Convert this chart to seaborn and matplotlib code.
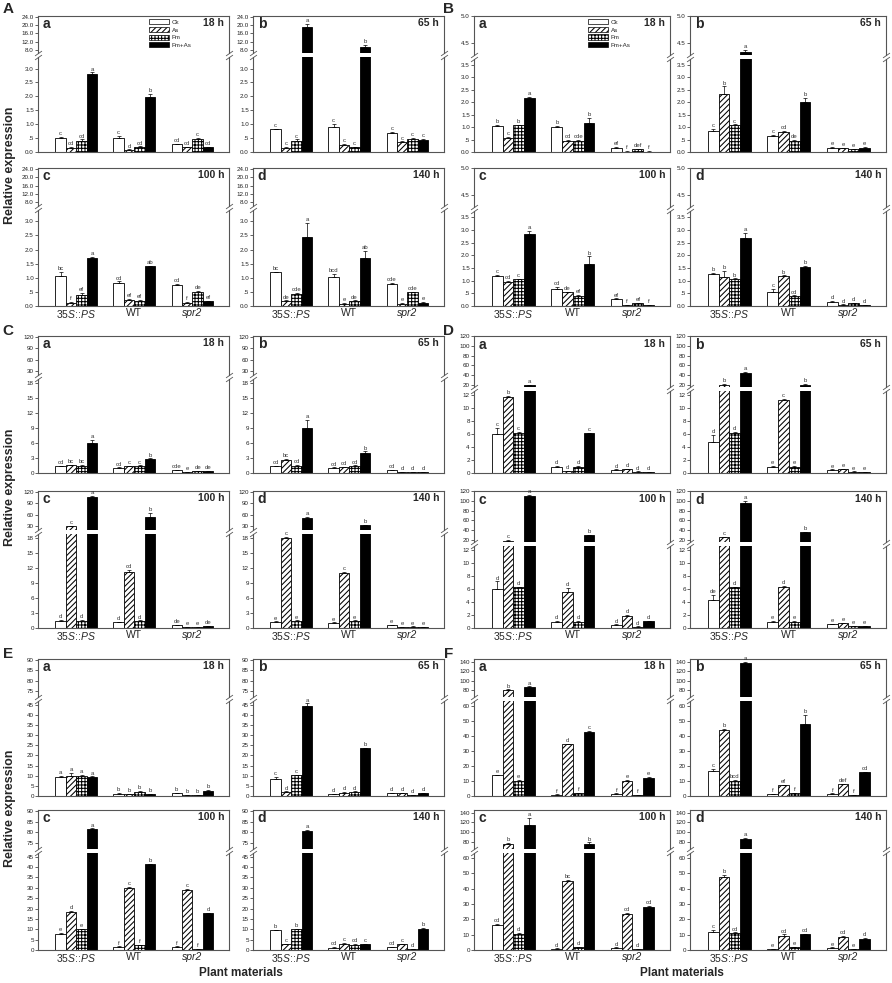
import numpy as np
import pandas as pd
import matplotlib
matplotlib.use("Agg")
import matplotlib.pyplot as plt
from matplotlib.patches import Patch
import seaborn as sns

genotypes = ["35S::PS", "WT", "spr2"]
geno_labels = [r"35$\it{S}$::$\it{PS}$", "WT", "spr2"]
treatments = ["Ck", "As", "Fm", "Fm+As"]
times = ["18 h", "65 h", "100 h", "140 h"]
sub_letters = ["a", "b", "c", "d"]

# values per subplot (a, b, c, d) -> genotype -> treatment
A_vals = [
    [[0.50, 0.15, 0.41, 2.79], [0.50, 0.07, 0.17, 1.99], [0.27, 0.17, 0.47, 0.17]],
    [[0.81, 0.16, 0.40, 19.1], [0.90, 0.25, 0.17, 9.3], [0.68, 0.35, 0.47, 0.43]],
    [[1.05, 0.12, 0.40, 1.70], [0.83, 0.22, 0.18, 1.40], [0.75, 0.12, 0.50, 0.17]],
    [[1.19, 0.17, 0.42, 2.45], [1.01, 0.08, 0.17, 1.70], [0.78, 0.08, 0.48, 0.12]],
]
A_errs = [
    [[0.04, 0.03, 0.04, 0.07], [0.08, 0.02, 0.03, 0.10], [0.03, 0.02, 0.03, 0.02]],
    [[0.03, 0.03, 0.05, 1.5], [0.12, 0.03, 0.02, 0.9], [0.04, 0.03, 0.03, 0.03]],
    [[0.15, 0.02, 0.05, 0.03], [0.04, 0.03, 0.03, 0.03], [0.03, 0.02, 0.03, 0.02]],
    [[0.03, 0.03, 0.04, 0.50], [0.13, 0.02, 0.03, 0.25], [0.03, 0.02, 0.03, 0.02]],
]
A_lets = [
    [["c", "cd", "cd", "a"], ["c", "d", "cd", "b"], ["cd", "cd", "c", "cd"]],
    [["c", "c", "c", "a"], ["c", "c", "c", "b"], ["c", "c", "c", "c"]],
    [["bc", "f", "ef", "a"], ["cd", "ef", "ef", "ab"], ["cd", "f", "de", "ef"]],
    [["bc", "de", "cde", "a"], ["bcd", "e", "de", "ab"], ["cde", "e", "cde", "e"]],
]

B_vals = [
    [[1.04, 0.57, 1.07, 2.15], [1.00, 0.44, 0.43, 1.16], [0.18, 0.02, 0.12, 0.02]],
    [[0.84, 2.33, 1.07, 4.34], [0.66, 0.79, 0.43, 2.02], [0.18, 0.15, 0.12, 0.17]],
    [[1.18, 0.94, 1.05, 2.85], [0.66, 0.54, 0.38, 1.66], [0.28, 0.02, 0.11, 0.03]],
    [[1.28, 1.13, 1.05, 2.70], [0.56, 1.17, 0.38, 1.54], [0.17, 0.05, 0.11, 0.03]],
]
B_errs = [
    [[0.04, 0.04, 0.03, 0.07], [0.03, 0.04, 0.04, 0.20], [0.03, 0.01, 0.02, 0.01]],
    [[0.07, 0.30, 0.04, 0.03], [0.04, 0.06, 0.04, 0.15], [0.02, 0.02, 0.02, 0.02]],
    [[0.04, 0.06, 0.03, 0.13], [0.10, 0.03, 0.05, 0.30], [0.02, 0.01, 0.02, 0.01]],
    [[0.04, 0.25, 0.04, 0.20], [0.10, 0.04, 0.04, 0.04], [0.02, 0.01, 0.02, 0.01]],
]
B_lets = [
    [["b", "c", "b", "a"], ["b", "cd", "cde", "b"], ["ef", "f", "def", "f"]],
    [["c", "b", "c", "a"], ["c", "cd", "de", "b"], ["e", "e", "e", "e"]],
    [["c", "cd", "c", "a"], ["cd", "de", "ef", "b"], ["ef", "f", "ef", "f"]],
    [["b", "b", "b", "a"], ["c", "b", "cd", "b"], ["d", "d", "d", "d"]],
]

C_vals = [
    [[1.3, 1.5, 1.45, 5.9], [1.0, 1.35, 1.4, 2.7], [0.5, 0.15, 0.3, 0.35]],
    [[1.3, 2.5, 1.45, 9.0], [1.0, 1.15, 1.4, 4.05], [0.5, 0.12, 0.2, 0.1]],
    [[1.45, 31.0, 1.45, 106.0], [1.15, 11.1, 1.4, 55.0], [0.5, 0.1, 0.2, 0.35]],
    [[1.2, 17.9, 1.4, 52.5], [1.0, 11.0, 1.4, 32.5], [0.5, 0.15, 0.25, 0.1]],
]
C_errs = [
    [[0.1, 0.05, 0.1, 0.7], [0.1, 0.1, 0.1, 0.2], [0.1, 0.05, 0.05, 0.05]],
    [[0.1, 0.3, 0.1, 1.5], [0.1, 0.1, 0.1, 0.25], [0.1, 0.05, 0.05, 0.05]],
    [[0.1, 1.0, 0.1, 3.0], [0.1, 0.4, 0.1, 10.0], [0.1, 0.05, 0.05, 0.05]],
    [[0.1, 0.2, 0.1, 1.5], [0.1, 0.2, 0.1, 1.5], [0.1, 0.05, 0.05, 0.05]],
]
C_lets = [
    [["cd", "bc", "bc", "a"], ["cd", "c", "c", "b"], ["cde", "e", "de", "de"]],
    [["cd", "bc", "cd", "a"], ["cd", "cd", "cd", "b"], ["cd", "d", "d", "d"]],
    [["d", "c", "d", "a"], ["d", "cd", "d", "b"], ["de", "e", "e", "de"]],
    [["e", "c", "e", "a"], ["e", "c", "e", "b"], ["e", "e", "e", "e"]],
]

D_vals = [
    [[6.0, 11.7, 6.25, 19.0], [1.0, 0.25, 1.0, 6.15], [0.5, 0.55, 0.2, 0.15]],
    [[4.8, 20.0, 6.25, 45.0], [1.0, 11.2, 1.0, 20.0], [0.5, 0.6, 0.2, 0.15]],
    [[6.0, 17.5, 6.3, 111.0], [1.0, 5.6, 1.0, 28.7], [0.5, 1.9, 0.2, 1.05]],
    [[4.3, 24.5, 6.3, 97.0], [1.0, 6.3, 1.0, 35.0], [0.55, 0.7, 0.25, 0.3]],
]
D_errs = [
    [[0.9, 0.2, 0.1, 0.5], [0.1, 0.05, 0.1, 0.1], [0.05, 0.05, 0.05, 0.05]],
    [[1.1, 1.0, 0.1, 1.5], [0.1, 0.2, 0.1, 0.8], [0.05, 0.05, 0.05, 0.05]],
    [[1.2, 1.0, 0.1, 2.0], [0.1, 0.6, 0.1, 1.5], [0.05, 0.1, 0.05, 0.05]],
    [[0.8, 1.0, 0.1, 3.0], [0.1, 0.2, 0.1, 1.0], [0.05, 0.05, 0.05, 0.05]],
]
D_lets = [
    [["c", "b", "c", "a"], ["d", "d", "d", "c"], ["d", "d", "d", "d"]],
    [["d", "b", "d", "a"], ["e", "c", "e", "b"], ["e", "e", "e", "e"]],
    [["d", "c", "d", "a"], ["d", "d", "d", "b"], ["d", "d", "d", "d"]],
    [["de", "c", "d", "a"], ["e", "d", "e", "b"], ["e", "e", "e", "e"]],
]

E_vals = [
    [[9.6, 9.8, 10.1, 9.4], [1.2, 0.8, 2.2, 0.9], [1.5, 0.4, 0.6, 2.5]],
    [[8.6, 2.0, 10.2, 44.2], [1.0, 1.6, 2.0, 23.5], [1.3, 1.5, 0.4, 1.5]],
    [[7.9, 18.3, 10.0, 81.4], [1.4, 29.9, 2.2, 41.3], [1.4, 29.0, 0.3, 17.7]],
    [[9.5, 2.8, 10.0, 80.8], [1.2, 3.0, 2.5, 2.8], [1.3, 2.8, 0.3, 10.3]],
]
E_errs = [
    [[0.3, 1.6, 0.3, 0.3], [0.2, 0.2, 0.3, 0.2], [0.2, 0.1, 0.1, 0.3]],
    [[0.8, 0.3, 0.3, 1.5], [0.2, 0.3, 0.3, 0.4], [0.2, 0.2, 0.1, 0.2]],
    [[0.3, 0.5, 0.3, 0.4], [0.3, 0.4, 0.3, 0.4], [0.3, 0.4, 0.1, 0.3]],
    [[0.3, 0.3, 0.3, 0.4], [0.3, 0.3, 0.3, 0.3], [0.3, 0.3, 0.1, 0.3]],
]
E_lets = [
    [["a", "a", "a", "a"], ["b", "b", "b", "b"], ["b", "b", "b", "b"]],
    [["c", "d", "c", "a"], ["d", "d", "d", "b"], ["d", "d", "d", "d"]],
    [["e", "d", "e", "a"], ["f", "c", "f", "b"], ["f", "c", "f", "d"]],
    [["b", "c", "b", "a"], ["cd", "c", "cd", "c"], ["cd", "c", "d", "b"]],
]

F_vals = [
    [[13.7, 80.0, 10.3, 86.6], [0.8, 34.4, 1.8, 42.7], [1.5, 10.3, 0.5, 12.1]],
    [[16.4, 44.0, 10.3, 137.0], [1.0, 7.2, 1.8, 47.9], [1.5, 8.0, 0.6, 15.7]],
    [[16.0, 76.0, 10.7, 114.0], [0.8, 44.7, 1.8, 75.3], [1.5, 23.3, 0.5, 27.8]],
    [[12.0, 47.8, 10.9, 86.0], [0.7, 9.3, 1.8, 10.4], [1.5, 8.6, 0.4, 7.1]],
]
F_errs = [
    [[0.5, 1.0, 0.5, 1.0], [0.2, 0.5, 0.2, 0.6], [0.2, 0.4, 0.1, 0.4]],
    [[1.5, 0.8, 0.5, 2.0], [0.2, 0.3, 0.2, 6.0], [0.2, 0.3, 0.1, 0.5]],
    [[1.0, 1.0, 0.5, 15.0], [0.2, 0.8, 0.2, 3.0], [0.2, 0.6, 0.1, 1.0]],
    [[1.2, 1.0, 0.5, 1.0], [0.2, 0.8, 0.2, 0.3], [0.2, 0.3, 0.1, 0.8]],
]
F_lets = [
    [["e", "b", "e", "a"], ["f", "d", "f", "c"], ["f", "e", "f", "e"]],
    [["c", "b", "bcd", "a"], ["f", "ef", "f", "b"], ["f", "def", "f", "cd"]],
    [["cd", "b", "d", "a"], ["d", "bc", "d", "b"], ["d", "cd", "d", "cd"]],
    [["c", "b", "cd", "a"], ["e", "cd", "e", "cd"], ["e", "cd", "e", "d"]],
]

# broken y axis settings per panel
def lab(vals, fmt):
    out = []
    for v in vals:
        s = fmt.format(v)
        if s.startswith("0.") and v != 0:
            s = s[1:]
        out.append(s)
    return out

A_lo = [0, 0.5, 1.0, 1.5, 2.0, 2.5, 3.0]
A_hi = [8, 12, 16, 20, 24]
B_lo = [0, 0.5, 1.0, 1.5, 2.0, 2.5, 3.0, 3.5]
B_hi = [4.5, 5.0]
C_lo = [0, 3, 6, 9, 12, 15, 18]
C_hi = [30, 60, 90, 120]
D_lo = [0, 2, 4, 6, 8, 10, 12]
D_hi = [20, 40, 60, 80, 100, 120]
E_lo = [0, 5, 10, 15, 20, 25, 30, 35, 40, 45]
E_hi = [75, 80, 85, 90]
F_lo = [0, 10, 20, 30, 40, 50, 60]
F_hi = [80, 100, 120, 140]

axis_cfg = {
    "A": dict(lo=(0, 3.4), lo_t=A_lo, lo_l=lab(A_lo, "{:.1f}"), hi=(6.2, 24.4), hi_t=A_hi, hi_l=lab(A_hi, "{:.1f}"), frac=0.29),
    "B": dict(lo=(0, 3.74), lo_t=B_lo, lo_l=lab(B_lo, "{:.1f}"), hi=(4.28, 5.0), hi_t=B_hi, hi_l=lab(B_hi, "{:.1f}"), frac=0.30),
    "C": dict(lo=(0, 18.7), lo_t=C_lo, lo_l=lab(C_lo, "{:d}"), hi=(20, 122.5), hi_t=C_hi, hi_l=lab(C_hi, "{:d}"), frac=0.30),
    "D": dict(lo=(0, 12.6), lo_t=D_lo, lo_l=lab(D_lo, "{:d}"), hi=(14, 121), hi_t=D_hi, hi_l=lab(D_hi, "{:d}"), frac=0.39),
    "E": dict(lo=(0, 47), lo_t=E_lo, lo_l=lab(E_lo, "{:d}"), hi=(72.3, 90.5), hi_t=E_hi, hi_l=lab(E_hi, "{:d}"), frac=0.29),
    "F": dict(lo=(0, 63.4), lo_t=F_lo, lo_l=lab(F_lo, "{:d}"), hi=(65.4, 146), hi_t=F_hi, hi_l=lab(F_hi, "{:d}"), frac=0.29),
}

sns.set_style("ticks")
plt.rcParams["font.family"] = ["Liberation Sans", "DejaVu Sans"]
plt.rcParams["mathtext.fontset"] = "custom"
plt.rcParams["mathtext.rm"] = "Liberation Sans"
plt.rcParams["mathtext.it"] = "Liberation Sans:italic"
plt.rcParams["hatch.linewidth"] = 0.75

W, H = 892, 983
fig = plt.figure(figsize=(W / 100, H / 100), dpi=100)

palette = {"Ck": "white", "As": "white", "Fm": "white", "Fm+As": "black"}
hatches = ["", "//////", "+++++", ""]
frame_c = "#555555"

col_x = {"left": [(38, 229), (253, 444)], "right": [(474, 670), (690, 886)]}
row_y = [[(16, 152), (168, 306)], [(336, 473), (491, 628)], [(659, 796), (810, 950)]]


def draw_sub(box, cfg, vals, errs, lets, k, show_x, legend):
    x0, x1, y0, y1 = box
    yb = y0 + cfg["frac"] * (y1 - y0)
    ax_hi = fig.add_axes([x0 / W, 1 - (yb - 2) / H, (x1 - x0) / W, (yb - 2 - y0) / H])
    ax_lo = fig.add_axes([x0 / W, 1 - y1 / H, (x1 - x0) / W, (y1 - yb - 2) / H])
    rows = []
    for g, geno in enumerate(genotypes):
        for t, trt in enumerate(treatments):
            rows.append((geno, trt, vals[g][t]))
    df = pd.DataFrame(rows, columns=["genotype", "treatment", "value"])

    bars = []
    for ax in (ax_hi, ax_lo):
        sns.barplot(data=df, x="genotype", y="value", hue="treatment",
                    order=genotypes, hue_order=treatments, palette=palette,
                    edgecolor="black", linewidth=0.6, width=0.72, saturation=1,
                    errorbar=None, legend=False, ax=ax)
        xs, tops, es = [], [], []
        for t, cont in enumerate(ax.containers):
            for p in cont:
                p.set_hatch(hatches[t])
                xc = p.get_x() + p.get_width() / 2
                g = int(round(xc))
                xs.append(xc)
                tops.append(p.get_height())
                es.append(errs[g][t])
                if ax is ax_lo:
                    bars.append((xc, p.get_height() + errs[g][t], lets[g][t]))
        ax.errorbar(xs, tops, yerr=[np.zeros(len(es)), es], fmt="none",
                    ecolor="black", elinewidth=0.5, capsize=1.3, capthick=0.5)
        ax.set_xlim(-0.66, 2.63)
        ax.set_xlabel("")
        ax.set_ylabel("")
        ax.tick_params(axis="x", length=0, pad=1.5, labelsize=7.5)
        ax.tick_params(axis="y", length=2, width=0.5, pad=1, labelsize=4.5,
                       colors="#222222")
        for s in ax.spines.values():
            s.set_color(frame_c)
            s.set_linewidth(0.8)

    ax_hi.set_ylim(*cfg["hi"])
    ax_hi.set_yticks(cfg["hi_t"], cfg["hi_l"])
    ax_hi.spines["bottom"].set_visible(False)
    ax_hi.set_xticks([])
    ax_lo.set_ylim(*cfg["lo"])
    ax_lo.set_yticks(cfg["lo_t"], cfg["lo_l"])
    ax_lo.spines["top"].set_visible(False)
    if show_x:
        ax_lo.set_xticks([0, 1, 2], geno_labels)
        ax_lo.get_xticklabels()[2].set_fontstyle("italic")
    else:
        ax_lo.set_xticks([0, 1, 2], ["", "", ""])

    # significance letters
    for xc, ytop, let in bars:
        if ytop > cfg["lo"][1]:
            ax, yy = ax_hi, max(ytop, cfg["hi"][0])
        else:
            ax, yy = ax_lo, ytop
        ax.annotate(let, (xc, yy), xytext=(0, 0.6), textcoords="offset points",
                    ha="center", va="bottom", fontsize=4.3, color="#333333",
                    annotation_clip=False)

    # break marks
    kw = dict(marker=[(-1, -0.7), (1, 0.7)], markersize=5, linestyle="none",
              color=frame_c, mec=frame_c, mew=0.6, clip_on=False)
    ax_hi.plot([0, 1], [0, 0], transform=ax_hi.transAxes, **kw)
    ax_lo.plot([0, 1], [1, 1], transform=ax_lo.transAxes, **kw)

    ax_hi.text(0.025, 0.97, sub_letters[k], transform=ax_hi.transAxes,
               fontsize=10, fontweight="bold", va="top", ha="left")
    ax_hi.text(0.975, 0.95, times[k], transform=ax_hi.transAxes,
               fontsize=7.5, fontweight="bold", va="top", ha="right")

    if legend:
        handles = [Patch(facecolor=palette[t], edgecolor="black", hatch=h,
                         linewidth=0.5) for t, h in zip(treatments, hatches)]
        ax_hi.legend(handles, treatments, loc="upper left",
                     bbox_to_anchor=(0.56, 1.03), frameon=False, fontsize=4.5,
                     handlelength=3.2, handleheight=0.9, labelspacing=0.3,
                     borderpad=0.2, handletextpad=0.4)


panels = [
    ("A", A_vals, A_errs, A_lets, 0, "left"),
    ("B", B_vals, B_errs, B_lets, 0, "right"),
    ("C", C_vals, C_errs, C_lets, 1, "left"),
    ("D", D_vals, D_errs, D_lets, 1, "right"),
    ("E", E_vals, E_errs, E_lets, 2, "left"),
    ("F", F_vals, F_errs, F_lets, 2, "right"),
]

for name, vals, errs, lets, r, side in panels:
    cfg = axis_cfg[name]
    for k in range(4):
        xr = col_x[side][k % 2]
        yr = row_y[r][k // 2]
        draw_sub((xr[0], xr[1], yr[0], yr[1]), cfg, vals[k], errs[k], lets[k],
                 k, show_x=(k >= 2), legend=(k == 0 and r == 0))
    lx = 8 if side == "left" else 449
    ly = [9, 331, 654][r]
    fig.text(lx / W, 1 - ly / H, name, fontsize=11, fontweight="bold",
             ha="center", va="center")

for yc in [165, 487, 808]:
    fig.text(10 / W, 1 - yc / H, "Relative expression", rotation=90,
             fontsize=9, fontweight="bold", ha="center", va="center")
for xc in [241, 682]:
    fig.text(xc / W, 1 - 973 / H, "Plant materials", fontsize=8.5,
             fontweight="bold", ha="center", va="center")

plt.savefig("out.png", dpi=100)
